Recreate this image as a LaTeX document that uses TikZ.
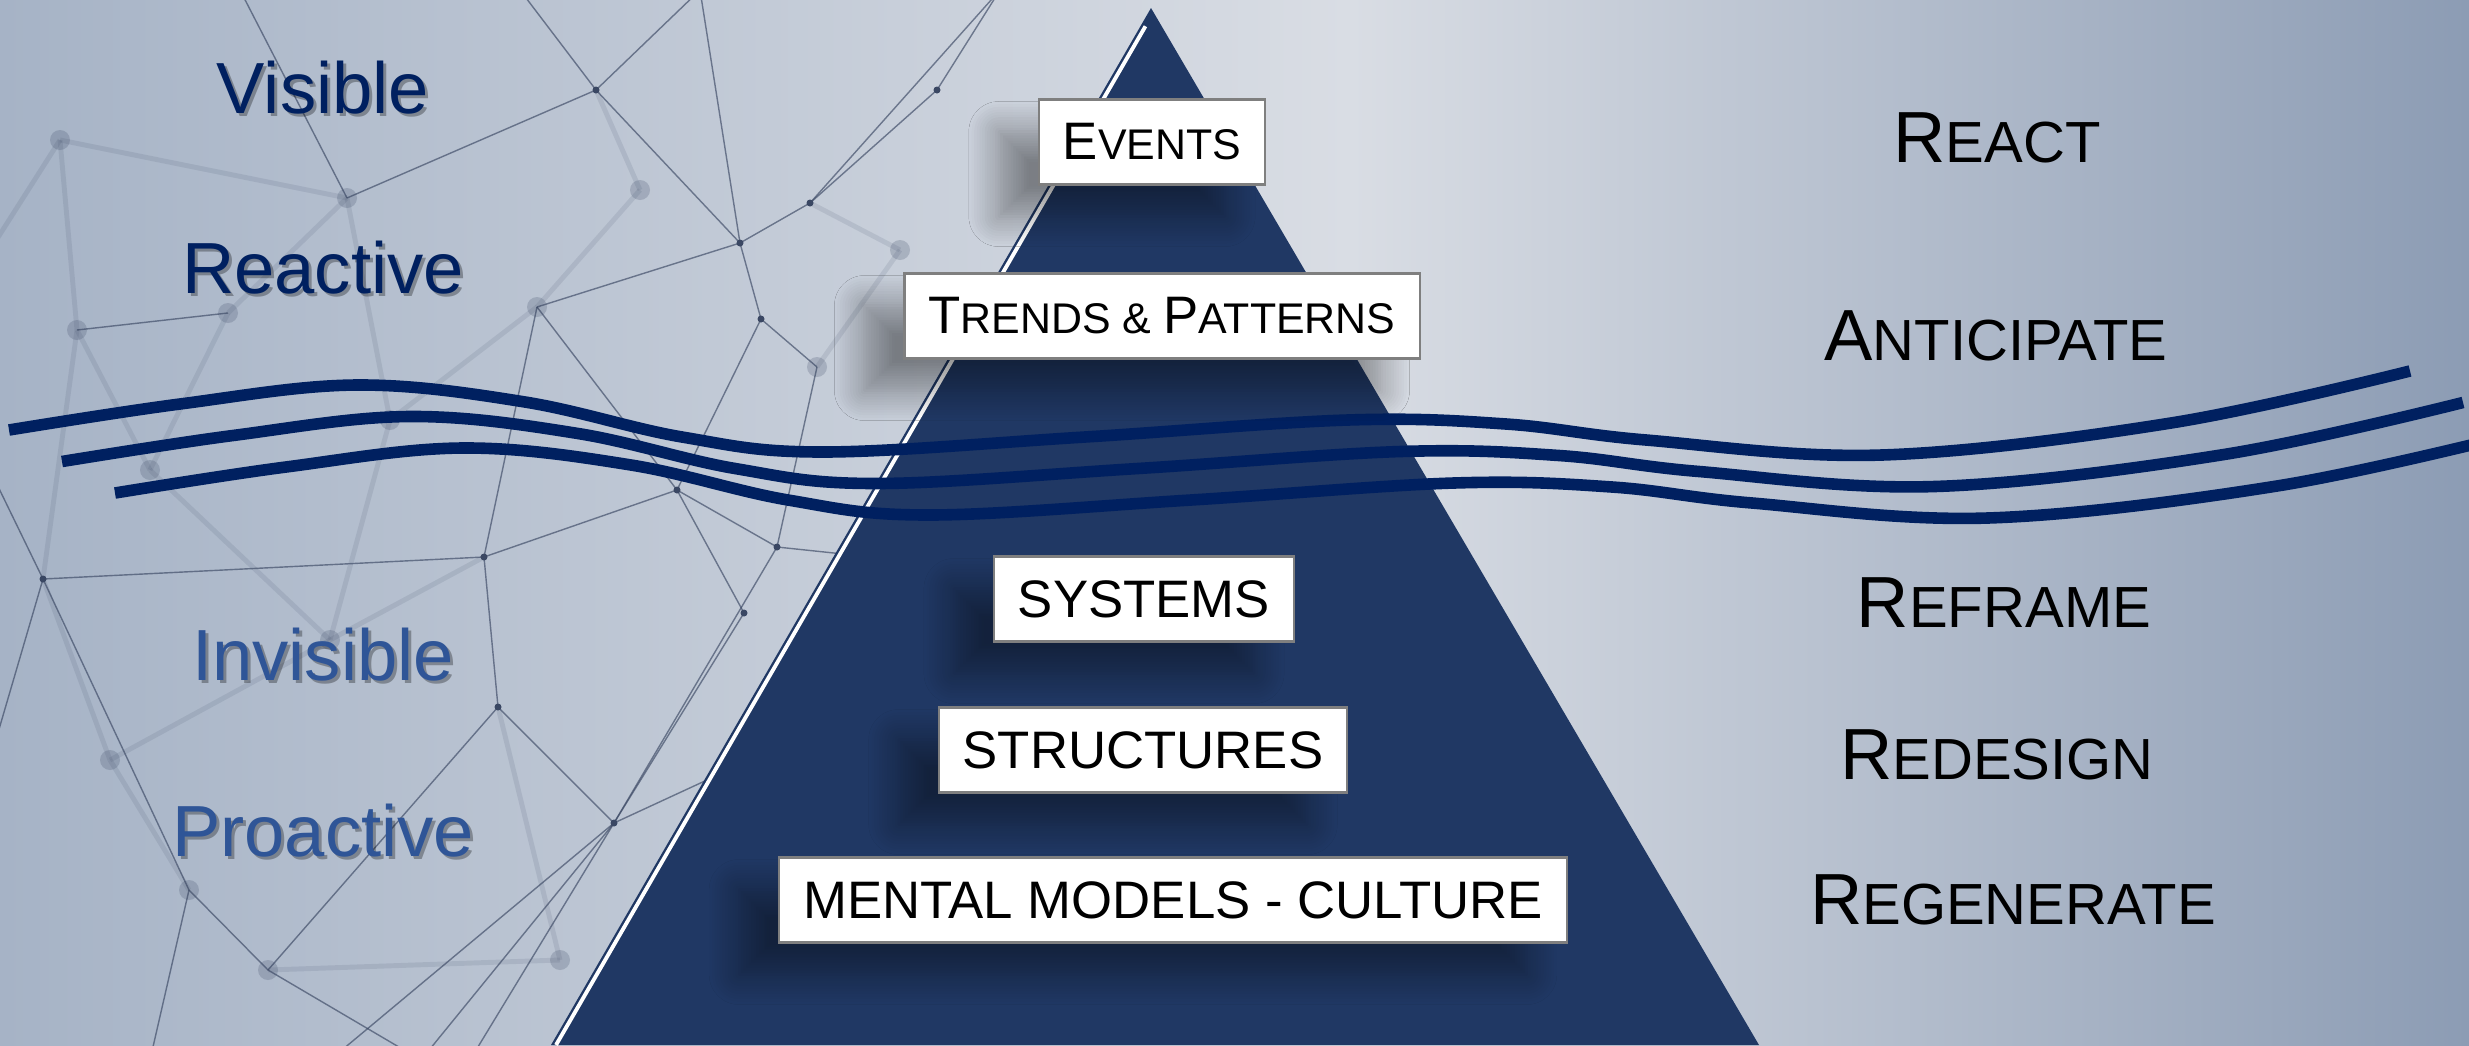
\documentclass[tikz,border=0pt]{standalone}
\usepackage{fontspec}
\setmainfont{Liberation Sans}
\usetikzlibrary{shadows.blur}

\definecolor{pyrblue}{HTML}{203864}
\definecolor{wavenavy}{HTML}{002060}
\definecolor{topblue}{HTML}{002060}
\definecolor{lowblue}{HTML}{2F5597}
\definecolor{bgleft}{HTML}{A6B3C6}
\definecolor{bgmid}{HTML}{D9DDE4}
\definecolor{bgright}{HTML}{8C9CB4}
\definecolor{netline}{HTML}{3A4763}
\definecolor{boxline}{HTML}{7F7F7F}

\newcommand{\boxsm}[1]{{\fontsize{12.2}{15}\selectfont #1}}
\newcommand{\actsm}[1]{{\fontsize{16.5}{20}\selectfont #1}}

\tikzset{
  layer/.style={draw=boxline, line width=0.6pt, fill=white, inner xsep=0.24cm,
    minimum height=0.85cm, font=\fontsize{15}{18}\selectfont,
    blur shadow={shadow xshift=-0.4cm, shadow yshift=-0.32cm,
      shadow blur radius=0.3cm, shadow blur steps=12, shadow opacity=40}},
  action/.style={anchor=base, font=\fontsize{20.6}{24}\selectfont},
  side/.style={anchor=base, font=\fontsize{20.6}{24}\selectfont},
  wave/.style={draw=wavenavy, line width=3.3pt},
  net/.style={netline, line width=0.4pt, opacity=0.65},
  fuzzy/.style={netline, line width=1.4pt, opacity=0.12},
}

\begin{document}
\begin{tikzpicture}[x=0.01cm, y=-0.01cm]

  \useasboundingbox (0,0) rectangle (2469,1045);
  \clip (0,0) rectangle (2469,1045);

  % background
  \shade[left color=bgleft, right color=bgmid] (0,0) rectangle (1350,1045);
  \shade[left color=bgmid, right color=bgright] (1350,0) rectangle (2469,1045);

  % network in the back
  \foreach \x/\y/\n in {596/90/p1, 740/243/p2, 810/203/p3, 761/319/p4, 937/90/p5,
      347/198/p6, 677/490/p7, 484/557/p8, 777/547/p9, 744/613/p10, 43/579/p11,
      498/707/p12, 614/823/p13, 189/890/p14, 268/970/p15, 77/330/p16, 228/313/p17,
      537/307/p18, 817/367/p19, 240/-10/e1, 520/-10/e2, 1000/-10/e3, -10/470/e4,
      -10/760/e5, 421/1060/e6, 470/1060/e7, 880/700/e8, 900/560/e9, 150/1060/e10,
      700/-10/e11, 60/140/q1, 150/470/q2, 330/640/q3, 110/760/q4, 390/420/q5,
      640/190/q6, 900/250/q7, 560/960/q8, -10/250/e12, 330/1060/e13}
    \coordinate (\n) at (\x,\y);
  \foreach \a/\b in {p1/p2, p2/p3, p2/p4, p3/p5, p5/e3, p1/e2, p1/e11, p6/p1,
      p6/e1, p18/p2, p4/p7, p7/p8, p7/p9, p7/p10, p8/p11, p11/e4, p11/e5,
      p16/p17, p8/p12, p12/p13, p13/e6, p13/e7, p13/p10, p13/p9,
      p13/e8, p9/e9, p4/p19, p19/p9, p14/p15, p15/e6, p14/e10, p8/p18,
      p2/e11, p3/e3, p11/p14, p13/e13, p12/p15, p7/p18}
    \draw[net] (\a) -- (\b);
  \foreach \a/\b in {q1/p6, q1/p16, q1/e12, q2/p16, q2/p17, q2/q3, q3/p8, q3/q4,
      q4/p11, q4/p14, q5/p6, q5/p18, q5/q3, q6/p1, q6/p18, q7/p3, q7/p19, q8/p12,
      q8/p15, p6/p17, p11/p16}
    \draw[fuzzy] (\a) -- (\b);
  \foreach \n in {p1, p2, p3, p4, p5, p7, p8, p9, p10, p11, p12, p13}
    \fill[netline] (\n) circle (3.5);
  \foreach \n in {p6, p14, p15, p16, p17, p18, p19, q1, q2, q3, q4, q5, q6, q7, q8}
    \fill[netline, opacity=0.22] (\n) circle (10);

  % pyramid
  \coordinate (apex) at (1151,8);
  \coordinate (bl) at (551,1045);
  \coordinate (br) at (1759,1045);
  \fill[pyrblue] (bl) -- (apex) -- (br) -- cycle;
  \draw[white, line width=1.1pt, shorten >=6pt] ([xshift=0.05cm]bl) -- ([xshift=0.05cm]apex);

  % waves
  \foreach \dx/\dy in {0/0, 53/31.5, 106/63}
    \draw[wave, shift={(\dx,\dy)}] plot[smooth, tension=0.6] coordinates {
      (9,430) (180,404) (357,385) (525,402) (682,437) (823,452) (1085,437)
      (1348,420) (1506,424) (1646,440) (1882,455) (2171,423) (2410,371)};

  % layers
  \node[layer] (events) at (1152,142) {E\boxsm{VENTS}};
  \node[layer] (trends) at (1162,316) {T\boxsm{RENDS \& }P\boxsm{ATTERNS}};
  \node[layer] (systems) at (1144,599) {SYSTEMS};
  \node[layer] (structures) at (1143,750) {STRUCTURES};
  \node[layer] (mental) at (1173,900) {MENTAL MODELS - CULTURE};

  % actions
  \node[action] (react) at (1997,162) {R\actsm{EACT}};
  \node[action] (anticipate) at (1996,360) {A\actsm{NTICIPATE}};
  \node[action] (reframe) at (2004,627) {R\actsm{EFRAME}};
  \node[action] (redesign) at (1997,779) {R\actsm{EDESIGN}};
  \node[action] (regenerate) at (2013,924) {R\actsm{EGENERATE}};

  % left side
  \foreach \n/\t/\c/\y in {visible/Visible/topblue/113, reactive/Reactive/topblue/293,
      invisible/Invisible/lowblue/680, proactive/Proactive/lowblue/856}{
    \node[side, text=black, opacity=0.3] (\n-sh) at (326,\y+3) {\t};
    \node[side, text=\c] (\n) at (323,\y) {\t};
  }

\end{tikzpicture}
\end{document}
